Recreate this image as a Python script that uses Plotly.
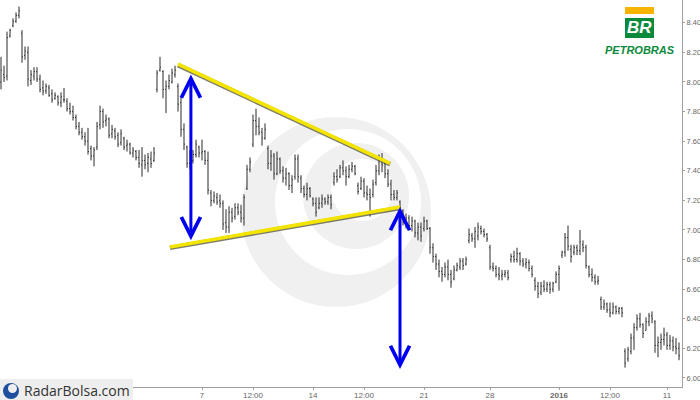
import plotly.graph_objects as go

# ---------------- data ----------------
opens = [8.00,8.05,8.04,8.31,8.38,8.41,8.45,8.33,8.18,8.20,
         8.01,8.04,8.07,8.02,7.96,7.94,7.96,7.92,7.89,7.90,
         7.86,7.88,7.87,7.82,7.80,7.76,7.70,7.66,7.63,7.60,
         7.55,7.50,7.56,7.71,7.80,7.74,7.75,7.65,7.67,7.64,
         7.59,7.62,7.57,7.58,7.52,7.53,7.49,7.44,7.47,7.45,
         7.48,7.47,7.95,8.08,8.07,7.95,7.97,8.00,8.05,7.97,
         7.86,7.68,7.56,7.45,7.47,7.51,7.56,7.52,7.53,7.47,
         7.25,7.20,7.22,7.20,7.18,7.05,7.02,7.12,7.09,7.15,
         7.12,7.08,7.28,7.41,7.58,7.74,7.70,7.66,7.62,7.55,
         7.45,7.50,7.38,7.48,7.40,7.35,7.38,7.30,7.36,7.48,
         7.35,7.28,7.24,7.28,7.21,7.18,7.15,7.18,7.21,7.19,
         7.22,7.32,7.36,7.36,7.42,7.40,7.36,7.41,7.43,7.30,
         7.28,7.33,7.25,7.24,7.24,7.32,7.40,7.48,7.45,7.38,
         7.31,7.24,7.22,7.19,7.13,7.05,7.08,7.03,7.06,6.98,
         7.02,7.01,7.06,7.01,6.88,6.82,6.77,6.72,6.70,6.75,
         6.70,6.67,6.73,6.75,6.79,6.77,6.93,6.96,6.94,6.96,
         7.01,6.99,6.97,6.88,6.75,6.74,6.70,6.69,6.70,6.71,
         6.80,6.82,6.80,6.84,6.79,6.77,6.78,6.74,6.66,6.62,
         6.58,6.62,6.60,6.63,6.60,6.65,6.70,6.83,6.85,6.95,
         6.87,6.85,6.88,6.86,6.90,6.88,6.75,6.70,6.68,6.65,
         6.53,6.48,6.50,6.46,6.44,6.48,6.45,6.47,6.18,6.13,
         6.18,6.27,6.34,6.40,6.36,6.32,6.38,6.42,6.38,6.22,
         6.24,6.26,6.29,6.22,6.25,6.21,6.20]

highs = [8.17,8.11,8.34,8.36,8.43,8.47,8.51,8.35,8.24,8.24,
         8.08,8.10,8.10,8.05,8.01,7.99,7.98,7.95,7.93,7.91,
         7.93,7.96,7.89,7.86,7.84,7.78,7.73,7.69,7.66,7.69,
         7.57,7.56,7.73,7.84,7.82,7.78,7.76,7.71,7.69,7.66,
         7.68,7.63,7.61,7.59,7.56,7.54,7.54,7.56,7.51,7.52,
         7.53,7.56,8.08,8.17,8.08,8.01,8.05,8.09,8.11,7.99,
         7.90,7.72,7.57,7.54,7.54,7.61,7.57,7.61,7.54,7.53,
         7.27,7.26,7.25,7.24,7.20,7.14,7.16,7.15,7.18,7.18,
         7.17,7.24,7.44,7.49,7.78,7.82,7.76,7.69,7.72,7.57,
         7.54,7.52,7.53,7.49,7.43,7.42,7.39,7.37,7.51,7.51,
         7.37,7.30,7.32,7.29,7.22,7.22,7.22,7.24,7.22,7.24,
         7.24,7.39,7.41,7.44,7.47,7.43,7.44,7.46,7.44,7.32,
         7.36,7.35,7.30,7.28,7.34,7.44,7.51,7.52,7.46,7.41,
         7.34,7.27,7.27,7.20,7.14,7.11,7.10,7.09,7.07,7.05,
         7.05,7.09,7.07,7.02,6.91,6.84,6.80,6.75,6.78,6.80,
         6.73,6.76,6.78,6.81,6.81,6.82,7.01,6.98,7.02,7.05,
         7.03,7.01,6.98,6.90,6.78,6.76,6.75,6.73,6.73,6.73,
         6.84,6.86,6.88,6.85,6.81,6.81,6.80,6.76,6.68,6.65,
         6.65,6.66,6.65,6.65,6.65,6.72,6.76,6.86,6.98,7.03,
         6.90,6.90,6.90,7.00,6.93,6.90,6.76,6.74,6.70,6.69,
         6.55,6.53,6.51,6.51,6.51,6.49,6.48,6.48,6.20,6.21,
         6.30,6.37,6.43,6.44,6.37,6.41,6.44,6.45,6.39,6.28,
         6.30,6.34,6.31,6.29,6.28,6.27,6.24]

lows = [7.95,8.00,8.01,8.30,8.37,8.40,8.43,8.13,8.15,7.97,
        7.98,8.01,8.00,7.93,7.91,7.92,7.90,7.86,7.88,7.84,
        7.83,7.86,7.80,7.78,7.74,7.68,7.64,7.61,7.57,7.51,
        7.47,7.43,7.54,7.68,7.69,7.70,7.62,7.62,7.61,7.56,
        7.57,7.54,7.53,7.51,7.49,7.47,7.42,7.36,7.41,7.39,
        7.42,7.46,7.93,8.07,7.89,7.79,7.95,7.99,8.03,7.80,
        7.63,7.54,7.42,7.41,7.45,7.49,7.49,7.47,7.44,7.24,
        7.16,7.18,7.17,7.15,7.00,6.98,6.98,7.05,7.07,7.10,
        7.05,7.03,7.27,7.39,7.56,7.64,7.64,7.57,7.61,7.41,
        7.40,7.34,7.37,7.38,7.32,7.30,7.27,7.25,7.34,7.32,
        7.25,7.22,7.20,7.22,7.16,7.09,7.14,7.15,7.17,7.17,
        7.14,7.30,7.32,7.35,7.37,7.30,7.35,7.39,7.37,7.24,
        7.27,7.22,7.20,7.09,7.22,7.30,7.37,7.39,7.35,7.29,
        7.20,7.20,7.20,7.14,7.03,7.01,7.00,6.99,6.95,6.93,
        6.92,6.99,7.00,6.84,6.78,6.73,6.68,6.65,6.68,6.66,
        6.61,6.66,6.72,6.73,6.73,6.76,6.91,6.92,6.88,6.93,
        6.97,6.95,6.92,6.73,6.72,6.68,6.66,6.66,6.68,6.66,
        6.78,6.78,6.78,6.76,6.75,6.74,6.72,6.68,6.59,6.54,
        6.56,6.58,6.58,6.57,6.58,6.64,6.59,6.81,6.82,6.86,
        6.78,6.83,6.83,6.83,6.85,6.74,6.68,6.65,6.63,6.63,
        6.46,6.46,6.44,6.41,6.43,6.43,6.43,6.41,6.07,6.11,
        6.16,6.19,6.32,6.34,6.27,6.32,6.35,6.37,6.17,6.14,
        6.19,6.22,6.19,6.19,6.18,6.16,6.12]

closes = [8.08,8.03,8.30,8.35,8.41,8.45,8.48,8.17,8.21,8.02,
          8.05,8.07,8.02,7.95,7.94,7.97,7.91,7.88,7.91,7.86,
          7.90,7.88,7.82,7.80,7.76,7.70,7.66,7.63,7.60,7.53,
          7.50,7.54,7.70,7.80,7.73,7.75,7.64,7.68,7.63,7.58,
          7.65,7.56,7.58,7.52,7.54,7.49,7.45,7.47,7.44,7.49,
          7.45,7.52,8.06,8.10,7.95,7.97,8.01,8.06,8.08,7.85,
          7.68,7.58,7.45,7.48,7.51,7.58,7.52,7.53,7.47,7.27,
          7.20,7.23,7.19,7.18,7.04,7.02,7.12,7.08,7.15,7.12,
          7.08,7.22,7.41,7.46,7.74,7.70,7.66,7.62,7.68,7.45,
          7.50,7.38,7.48,7.40,7.35,7.38,7.30,7.34,7.48,7.36,
          7.28,7.24,7.28,7.23,7.18,7.12,7.18,7.21,7.19,7.22,
          7.17,7.36,7.34,7.42,7.40,7.36,7.41,7.43,7.38,7.26,
          7.33,7.25,7.24,7.22,7.31,7.40,7.48,7.44,7.38,7.31,
          7.24,7.22,7.25,7.15,7.05,7.08,7.03,7.06,6.98,7.02,
          6.96,7.06,7.01,6.88,6.82,6.77,6.72,6.70,6.75,6.70,
          6.65,6.73,6.76,6.79,6.76,6.80,6.97,6.94,6.99,7.02,
          6.99,6.97,6.94,6.75,6.74,6.70,6.69,6.70,6.71,6.68,
          6.82,6.80,6.84,6.79,6.77,6.78,6.74,6.70,6.62,6.57,
          6.62,6.60,6.63,6.60,6.64,6.70,6.74,6.85,6.95,6.89,
          6.82,6.88,6.86,6.92,6.88,6.76,6.70,6.68,6.65,6.66,
          6.48,6.50,6.46,6.44,6.48,6.45,6.47,6.44,6.10,6.19,
          6.27,6.34,6.40,6.36,6.30,6.38,6.42,6.40,6.22,6.24,
          6.26,6.29,6.22,6.25,6.21,6.20,6.15]

bars = list(range(len(closes)))

# x-axis labels (bar index where each label sits)
tick_bars = [67, 84, 104, 121, 141, 163, 186, 203, 222]
tick_labels = ["7", "12:00", "14", "12:00", "21", "28", "<b>2016</b>", "12:00", "11"]

price_ticks = [6.00, 6.20, 6.40, 6.60, 6.80, 7.00, 7.20, 7.40, 7.60, 7.80, 8.00, 8.20, 8.40]

# triangle pattern annotations (bar index, price)
upper_line_x = [59, 129.7]
upper_line_y = [8.12, 7.45]
lower_line_x = [56.3, 133]
lower_line_y = [6.885, 7.155]
height_arrow_x = 63.3
height_arrow_top = 8.05
height_arrow_bottom = 6.92
target_arrow_x = 133
target_arrow_top = 7.155
target_arrow_bottom = 6.05

# ---------------- figure ----------------
PLOT_W, PLOT_H = 682, 387


def px(x):
    return x / PLOT_W


def py(y):
    return 1 - y / PLOT_H


fig = go.Figure()

fig.add_trace(go.Ohlc(
    x=bars, open=opens, high=highs, low=lows, close=closes,
    increasing=dict(line=dict(color="#2a2a2a", width=1)),
    decreasing=dict(line=dict(color="#2a2a2a", width=1)),
    tickwidth=0.3, showlegend=False, hoverinfo="skip",
))

# yellow trend lines with dark shadow
for lx, ly in [(upper_line_x, upper_line_y), (lower_line_x, lower_line_y)]:
    fig.add_trace(go.Scatter(x=lx, y=[v - 0.006 for v in ly], mode="lines",
                             line=dict(color="rgba(80,80,60,0.75)", width=4.5),
                             showlegend=False, hoverinfo="skip"))
    fig.add_trace(go.Scatter(x=lx, y=ly, mode="lines",
                             line=dict(color="#f3e500", width=3.6),
                             showlegend=False, hoverinfo="skip"))

# blue double-headed arrows
for ax_x, top, bottom in [(height_arrow_x, height_arrow_top, height_arrow_bottom),
                          (target_arrow_x, target_arrow_top, target_arrow_bottom)]:
    fig.add_annotation(x=ax_x, y=top, ax=ax_x, ay=bottom, xref="x", yref="y",
                       axref="x", ayref="y", text="", showarrow=True,
                       arrowside="end+start", arrowhead=5, startarrowhead=5,
                       arrowsize=1.25, startarrowsize=1.25, arrowwidth=3,
                       arrowcolor="#0000f0", standoff=0, startstandoff=0)

shapes = []
# watermark swirl (light grey)
for cx, cy, r, col in [(336, 212, 95, "#f0f0f0"), (348, 202, 73, "#ffffff"),
                       (356, 196, 53, "#f0f0f0"), (362, 190, 31, "#ffffff")]:
    shapes.append(dict(type="circle", xref="paper", yref="paper", layer="below",
                       x0=px(cx - r), x1=px(cx + r), y0=py(cy + r), y1=py(cy - r),
                       fillcolor=col, line=dict(width=0)))

# Petrobras logo
shapes.append(dict(type="rect", xref="paper", yref="paper", x0=px(625), x1=px(654),
                   y0=py(14), y1=py(7), fillcolor="#f6b400", line=dict(width=0)))
shapes.append(dict(type="rect", xref="paper", yref="paper", x0=px(625), x1=px(654),
                   y0=py(38), y1=py(18), fillcolor="#0b8a3c", line=dict(width=0)))

# RadarBolsa footer box
shapes.append(dict(type="rect", xref="paper", yref="paper", x0=0, x1=px(133),
                   y0=py(400), y1=py(379), fillcolor="#eeeeee", line=dict(width=0)))
shapes.append(dict(type="circle", xref="paper", yref="paper", x0=px(3), x1=px(19),
                   y0=py(399), y1=py(383), fillcolor="#1d4f9c", line=dict(width=0)))
shapes.append(dict(type="circle", xref="paper", yref="paper", x0=px(8), x1=px(17),
                   y0=py(393), y1=py(384), fillcolor="#eeeeee", line=dict(width=0)))

fig.update_layout(shapes=shapes)

fig.add_annotation(x=px(639.5), y=py(28), xref="paper", yref="paper", showarrow=False,
                   xanchor="center", yanchor="middle",
                   text="<b><i>BR</i></b>", font=dict(family="Liberation Sans", size=17, color="white"))
fig.add_annotation(x=px(640), y=py(50.5), xref="paper", yref="paper", showarrow=False,
                   xanchor="center", yanchor="middle",
                   text="<b><i>PETROBRAS</i></b>", font=dict(family="Liberation Sans", size=11, color="#0b8a3c"))
fig.add_annotation(x=px(22), y=py(390), xref="paper", yref="paper", showarrow=False,
                   xanchor="left", yanchor="middle",
                   text="RadarBolsa.com", font=dict(family="Open Sans", size=14, color="#333333"))

fig.update_layout(
    width=700, height=400,
    margin=dict(l=0, r=18, t=0, b=13, autoexpand=False),
    paper_bgcolor="white", plot_bgcolor="white",
    showlegend=False,
    xaxis=dict(range=[-0.333, 227], tickvals=tick_bars, ticktext=tick_labels,
               showgrid=False, zeroline=False, showline=True, linecolor="#a0a0a0",
               linewidth=1, ticks="outside", ticklen=2, tickcolor="#a0a0a0",
               automargin=False, ticklabelstandoff=-2,
               tickfont=dict(family="Liberation Sans", size=8, color="#666666"),
               rangeslider=dict(visible=False)),
    yaxis=dict(range=[5.939, 8.554], side="right", tickvals=price_ticks,
               ticktext=["%.2f" % v for v in price_ticks],
               showgrid=False, zeroline=False, showline=True, linecolor="#a0a0a0",
               linewidth=1, ticks="outside", ticklen=2, tickcolor="#a0a0a0",
               automargin=False,
               tickfont=dict(family="Liberation Sans", size=7.5, color="#666666")),
)

fig.write_html("out.html", config={"displayModeBar": False},
               post_script="document.body.style.margin='0px';")
